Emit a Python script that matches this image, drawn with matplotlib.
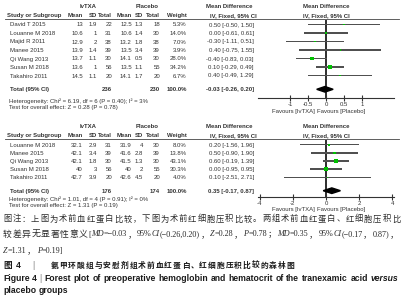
import matplotlib
matplotlib.use('Agg')
import matplotlib.pyplot as plt

plt.rcParams['axes.unicode_minus'] = False
SANS = ['Liberation Sans', 'DejaVu Sans']
plt.rcParams['font.family'] = SANS

W, H = 403, 300

# ---------------- data: hemoglobin (top) ----------------
hb_studies = ["David T 2015", "Louanne M 2018", "Majid R 2011", "Manee 2015",
              "Qi Wang 2013", "Susan M 2018", "Takahiro 2011"]
hb_txa_mean = [13, 10.6, 12.9, 13.9, 13.7, 13.6, 14.5]
hb_txa_sd = [1.9, 1, 2, 1.4, 1.1, 1, 1.1]
hb_txa_n = [22, 31, 38, 39, 30, 56, 20]
hb_pl_mean = [12.5, 10.6, 13.2, 13.5, 14.1, 13.5, 14.1]
hb_pl_sd = [1.3, 1.4, 1.8, 3.4, 0.5, 1.1, 1.7]
hb_pl_n = [18, 30, 38, 39, 30, 55, 20]
hb_weight = [5.3, 14.0, 7.0, 3.9, 28.0, 34.2, 6.7]
hb_md = [0.50, 0.00, -0.30, 0.40, -0.40, 0.10, 0.40]
hb_lo = [-0.50, -0.61, -1.11, -0.75, -0.83, -0.29, -0.49]
hb_hi = [1.50, 0.61, 0.51, 1.55, 0.03, 0.49, 1.29]
hb_total_n = [236, 230]
hb_total_md = [-0.03, -0.26, 0.20]
hb_het = "Heterogeneity: Chi\u00b2 = 6.19, df = 6 (P = 0.40); I\u00b2 = 3%"
hb_test = "Test for overall effect: Z = 0.28 (P = 0.78)"
hb_ticks = [-1, -0.5, 0, 0.5, 1]
hb_ticklabels = ["-1", "-0.5", "0", "0.5", "1"]

# ---------------- data: hematocrit (bottom) ----------------
hct_studies = ["Louanne M 2018", "Manee 2015", "Qi Wang 2013", "Susan M 2018", "Takahiro 2011"]
hct_txa_mean = [32.1, 42.1, 42.1, 40, 42.7]
hct_txa_sd = [2.9, 3.4, 1.8, 3, 3.9]
hct_txa_n = [31, 39, 30, 56, 20]
hct_pl_mean = [31.9, 41.6, 41.5, 40, 42.6]
hct_pl_sd = [4, 2.8, 1.3, 2, 4.5]
hct_pl_n = [30, 39, 30, 55, 20]
hct_weight = [8.0, 13.8, 43.1, 30.3, 4.0]
hct_md = [0.20, 0.50, 0.60, 0.00, 0.10]
hct_lo = [-1.56, -0.90, -0.19, -0.95, -2.51]
hct_hi = [1.96, 1.90, 1.39, 0.95, 2.71]
hct_total_n = [176, 174]
hct_total_md = [0.35, -0.17, 0.87]
hct_het = "Heterogeneity: Chi\u00b2 = 1.01, df = 4 (P = 0.91); I\u00b2 = 0%"
hct_test = "Test for overall effect: Z = 1.31 (P = 0.19)"
hct_ticks = [-4, -2, 0, 2, 4]
hct_ticklabels = ["-4", "-2", "0", "2", "4"]

fig = plt.figure(figsize=(W / 100, H / 100), dpi=100)
ax0 = fig.add_axes([0, 0, 1, 1])
ax0.set_xlim(0, W)
ax0.set_ylim(H, 0)
ax0.axis('off')
renderer = fig.canvas.get_renderer()

TXT = '#333333'
FS = 4.3


def t(x, y, s, ha='left', bold=False, size=FS, color=TXT):
    return ax0.text(x, y, s, ha=ha, va='center_baseline', fontsize=size,
                    fontweight='bold' if bold else 'normal', color=color)


def fmt(v):
    return f"{v:g}"


col_x = [83, 97, 112, 131.7, 142.7, 160, 186.7]


def panel(y_head, row0, dy, y_total, y_het, y_axis, y_fav, studies, tm, tsd, tn,
          pm, psd, pn, wt, md, lo, hi, tot_n, tot_md, het, test, xl, ticks, ticklabels):
    t(88.3, y_head, 'IvTXA', ha='center', bold=True)
    t(146.7, y_head, 'Placebo', ha='center', bold=True)
    t(229, y_head, 'Mean Difference', ha='center', bold=True)
    t(326, y_head, 'Mean Difference', ha='center', bold=True)
    y2 = y_head + 9.6
    t(7, y2, 'Study or Subgroup', bold=True)
    for x, s in zip(col_x, ['Mean', 'SD', 'Total', 'Mean', 'SD', 'Total', 'Weight']):
        t(x, y2, s, ha='right', bold=True)
    t(233, y2, 'IV, Fixed, 95% CI', ha='center', bold=True)
    t(326, y2, 'IV, Fixed, 95% CI', ha='center', bold=True)
    yl = y2 + 3.4
    ax0.plot([5, 399], [yl, yl], color='#444444', lw=0.6)

    ys = [row0 + i * dy for i in range(len(studies))]
    for i, y in enumerate(ys):
        t(10, y, studies[i])
        vals = [fmt(tm[i]), fmt(tsd[i]), str(tn[i]), fmt(pm[i]), fmt(psd[i]),
                str(pn[i]), f"{wt[i]:.1f}%"]
        for x, s in zip(col_x, vals):
            t(x, y, s, ha='right')
        t(254, y, f"{md[i]:.2f} [{lo[i]:.2f}, {hi[i]:.2f}]", ha='right')
    t(10, y_total, 'Total (95% CI)', bold=True)
    t(col_x[2], y_total, str(tot_n[0]), ha='right', bold=True)
    t(col_x[5], y_total, str(tot_n[1]), ha='right', bold=True)
    t(col_x[6], y_total, '100.0%', ha='right', bold=True)
    t(254, y_total, f"{tot_md[0]:.2f} [{tot_md[1]:.2f}, {tot_md[2]:.2f}]", ha='right', bold=True)
    t(9, y_het, het)
    t(9, y_het + 6.6, test)
    t(315, y_fav, 'Favours [IvTXA]', ha='right')
    t(317, y_fav, 'Favours [Placebo]', ha='left')

    axf = fig.add_axes([258 / W, 1 - y_axis / H, 136 / W, (y_axis - yl - 1) / H])
    axf.set_xlim(-xl, xl)
    axf.set_ylim(y_axis, yl + 1)
    axf.patch.set_visible(False)
    for s in ['top', 'left', 'right']:
        axf.spines[s].set_visible(False)
    axf.spines['bottom'].set_color('#333333')
    axf.spines['bottom'].set_linewidth(0.8)
    axf.set_yticks([])
    axf.set_xticks(ticks)
    axf.set_xticklabels(ticklabels)
    axf.tick_params(axis='x', direction='inout', length=4, width=0.8, labelsize=FS,
                    pad=1, colors='#333333', labelcolor=TXT)
    px = 136 / (2 * xl)  # pixels per data unit
    axf.axvspan(-0.6 / px, 0.6 / px, color='#333333', lw=0, zorder=3)
    axf.barh(ys, [b - a for a, b in zip(lo, hi)], left=lo, height=1.4,
             color='#505050', lw=0, zorder=4)
    sizes = [(0.7 * w ** 0.5 * 0.72) ** 2 for w in wt]
    axf.scatter(md, ys, marker='s', s=sizes, color='#00c000', linewidths=0, zorder=5,
                clip_on=False)
    m, a, b = tot_md
    axf.fill([a, m, b, m], [y_total, y_total - 2.8, y_total, y_total + 2.8],
             color='black', zorder=5, clip_on=False)
    axf.set_xlim(-xl, xl)
    axf.set_ylim(y_axis, yl + 1)


panel(5.7, 24.5, 8.5, 89.3, 100.7, 97.7, 110.7, hb_studies, hb_txa_mean, hb_txa_sd,
      hb_txa_n, hb_pl_mean, hb_pl_sd, hb_pl_n, hb_weight, hb_md, hb_lo, hb_hi,
      hb_total_n, hb_total_md, hb_het, hb_test, 1.9, hb_ticks, hb_ticklabels)
panel(125.7, 144.7, 8.15, 190.7, 198.3, 196.5, 209, hct_studies, hct_txa_mean, hct_txa_sd,
      hct_txa_n, hct_pl_mean, hct_pl_sd, hct_pl_n, hct_weight, hct_md, hct_lo, hct_hi,
      hct_total_n, hct_total_md, hct_het, hct_test, 4.1, hct_ticks, hct_ticklabels)

# ---------------- caption ----------------
CJK = ['Noto Sans CJK SC', 'DejaVu Sans']
SER = ['Liberation Serif', 'Noto Sans CJK SC']
CAP = '#2a2a2a'


def measure(s, kw):
    tt = ax0.text(0, 0, s, **kw)
    w = tt.get_window_extent(renderer).width
    tt.remove()
    return w


def draw_words(x0, y, words, target=None, gap=1.5, min_gap=1.0):
    widths = [[measure(s, kw) for s, kw in wd] for wd in words]
    totals = [sum(w) for w in widths]
    if target is not None and len(words) > 1:
        gap = (target - sum(totals)) / (len(words) - 1)
        if gap < min_gap:
            k = (target - min_gap * (len(words) - 1)) / sum(totals)
            words = [[(s, dict(kw, fontsize=kw['fontsize'] * k)) for s, kw in wd] for wd in words]
            widths = [[w * k for w in ws] for ws in widths]
            gap = min_gap
    x = x0
    for wd, ws in zip(words, widths):
        for (s, kw), w in zip(wd, ws):
            ax0.text(x, y, s, ha='left', va='center_baseline', **kw)
            x += w
        x += gap


def fit_words(x0, y, words, target, gap_em=0.27):
    widths = [sum(measure(s, kw) for s, kw in wd) for wd in words]
    fs0 = words[0][0][1]['fontsize']
    nat = sum(widths) + gap_em * fs0 / 0.72 * (len(words) - 1)
    k = target / nat
    new = [[(s, dict(kw, fontsize=kw['fontsize'] * k)) for s, kw in wd] for wd in words]
    draw_words(x0, y, new, target=target)
    return k


cs = 6.4
cj = dict(family=CJK, fontsize=cs, color=CAP)
se = dict(family=SER, fontsize=5.9, color=CAP)
si = dict(family=SER, fontsize=5.9, color=CAP, style='italic')

Y1, Y2, Y3, Y4, Y5, Y6 = 218, 233.5, 250, 264.5, 277.5, 289.5

line1 = "图注：上图为术前血红蛋白比较，下图为术前红细胞压积比较。两组术前血红蛋白、红细胞压积比"
draw_words(3, Y1, [[(c, cj)] for c in line1], target=397)

line2 = [[(c, cj)] for c in "较差异无显著性意义"]
line2 += [[('[', se), ('MD', si), ('=\u22120.03', se)], [('，', cj)],
          [('95%', se), ('CI', si), ('(\u22120.26,0.20)', se)], [('，', cj)],
          [('Z', si), ('=0.28', se)], [('，', cj)], [('P', si), ('=0.78', se)], [('；', cj)],
          [('MD', si), ('=0.35', se)], [('，', cj)],
          [('95%', se), ('CI', si), ('(\u22120.17', se)], [('，', cj)], [('0.87)', se)],
          [('，', cj)]]
draw_words(3, Y2, line2, target=396, min_gap=0.6)
line3 = [[('Z', si), ('=1.31', se)], [('，', cj)], [('P', si), ('=0.19]', se)]]
draw_words(3, Y3, line3, gap=0.8)

ts = 6.2
tb = dict(family=CJK, fontsize=ts, color='#1a1a1a', fontweight='bold')
ax0.text(3, Y4, '图', ha='left', va='center_baseline', **tb)
ax0.text(15.5, Y4, '4', ha='left', va='center_baseline', family=SANS, fontsize=ts,
         color='#1a1a1a', fontweight='bold')
ax0.text(32, Y4, '|', ha='left', va='center_baseline', family=SANS, fontsize=ts,
         color='#888888')
title_rest = "氨甲环酸组与安慰剂组术前血红蛋白、红细胞压积比较的森林图"
draw_words(50.5, Y4, [[(c, tb)] for c in title_rest], target=244)

fb = dict(family=SANS, fontsize=6.0, color='#1a1a1a', fontweight='bold')
fi = dict(family=SANS, fontsize=6.0, color='#1a1a1a', fontweight='bold', style='italic')
eng = "Figure 4 | Forest plot of preoperative hemoglobin and hematocrit of the tranexamic acid versus".split(' ')
eng_words = []
for wd in eng:
    if wd == '|':
        eng_words.append([(wd, dict(family=SANS, fontsize=6.0, color='#888888'))])
    elif wd == 'versus':
        eng_words.append([(wd, fi)])
    else:
        eng_words.append([(wd, fb)])
k = fit_words(3, Y5, eng_words, target=395)
fb2 = dict(fb, fontsize=6.0 * k)
draw_words(3, Y6, [[('placebo', fb2)], [('groups', fb2)]], gap=0.27 * 6.0 * k / 0.72)

fig.savefig('out.png', dpi=100)
